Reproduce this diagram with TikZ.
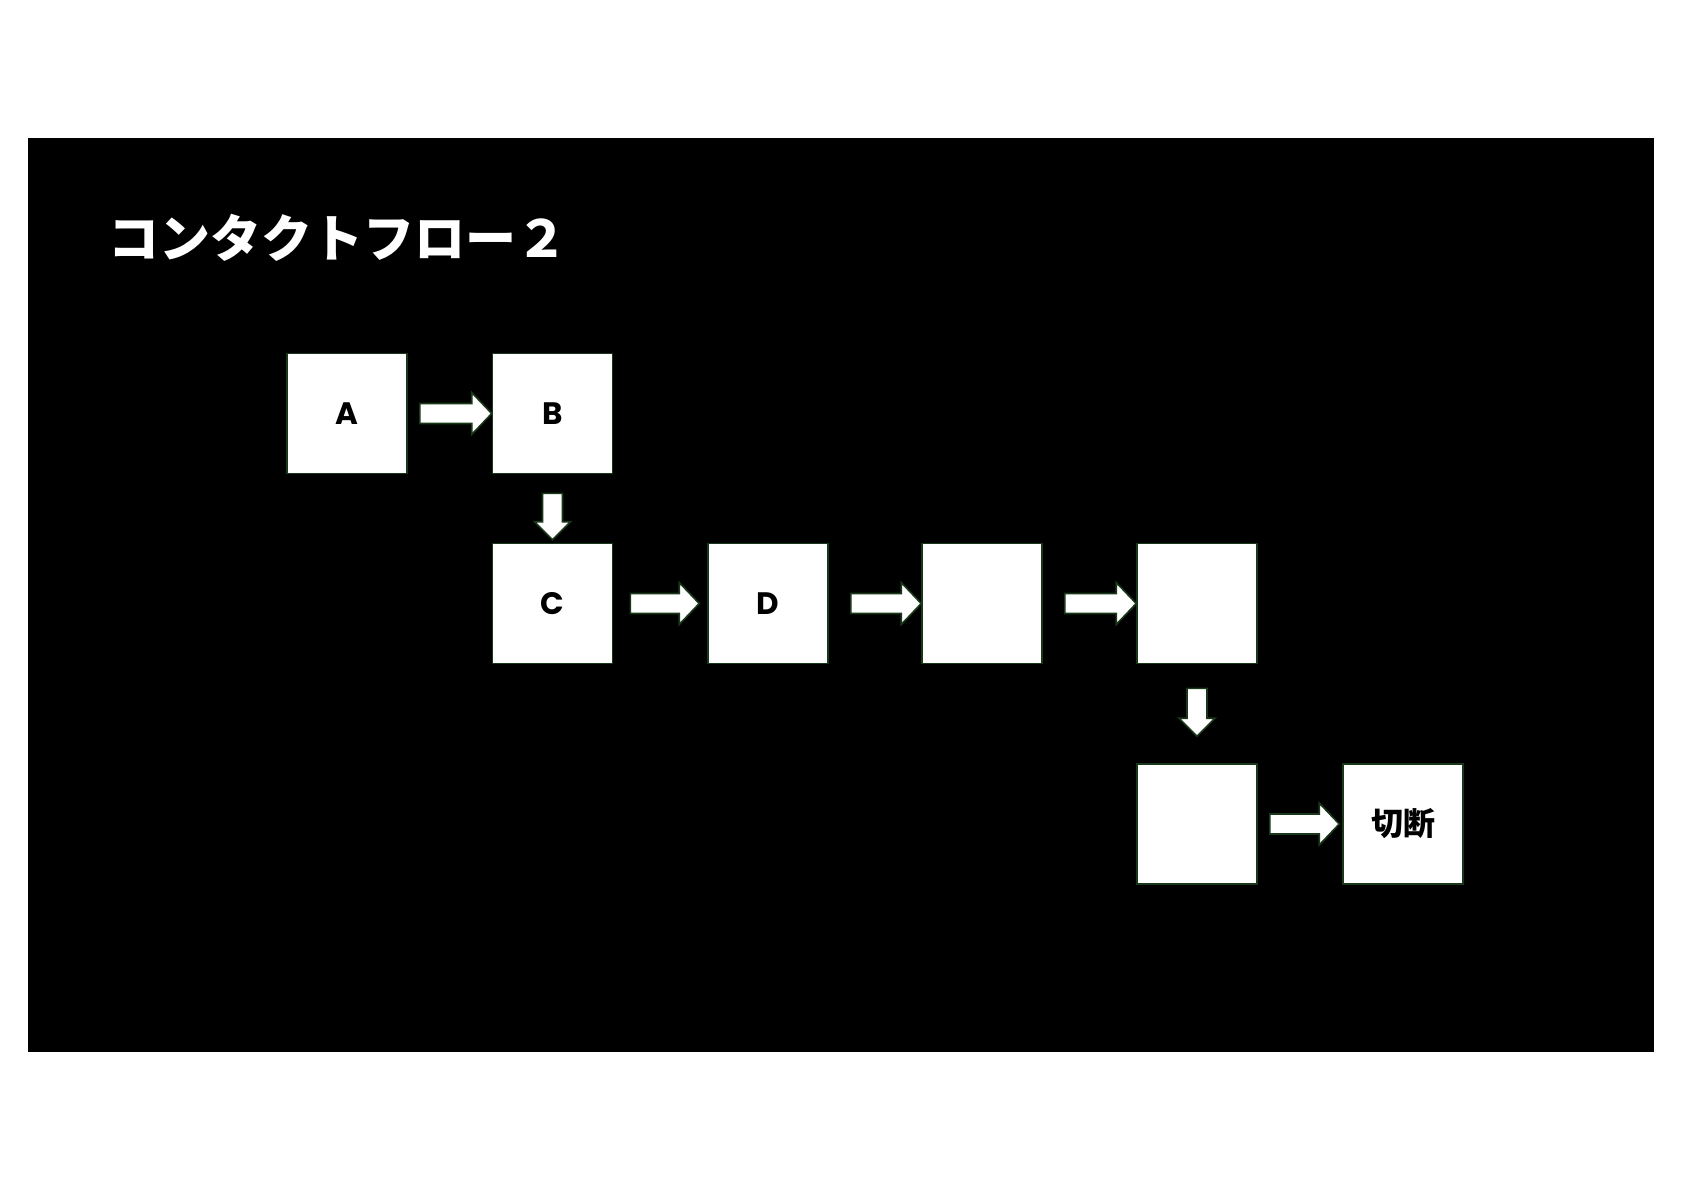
\documentclass[tikz,border=0pt]{standalone}
\usepackage{fontspec}
\usepackage{tikz}
\usetikzlibrary{calc}
\newfontfamily\jpfont{Noto Sans CJK JP}
\newfontfamily\boxfont{Poppins}
\definecolor{boxedge}{RGB}{25,55,25}

\begin{document}
\begin{tikzpicture}[x=0.5pt, y=-0.5pt,
  box/.style={draw=boxedge, fill=white, line width=0.8pt, minimum size=60pt, inner sep=0pt,
    font=\boxfont\bfseries\fontsize{15.5}{18}\selectfont},
  rarrow/.style={draw=boxedge, fill=white, line width=0.8pt,
    to path={let \p1=(\tikztostart), \p2=(\tikztotarget) in
      (\x1,\y1+5pt) -- (\x2-10pt,\y1+5pt) -- (\x2-10pt,\y1+10.5pt) -- (\x2,\y1)
      -- (\x2-10pt,\y1-10.5pt) -- (\x2-10pt,\y1-5pt) -- (\x1,\y1-5pt) -- cycle}},
  darrow/.style={draw=boxedge, fill=white, line width=0.8pt,
    to path={let \p1=(\tikztostart), \p2=(\tikztotarget) in
      (\x1-5pt,\y1) -- (\x1-5pt,\y2+9pt) -- (\x1-9pt,\y2+9pt) -- (\x1,\y2)
      -- (\x1+9pt,\y2+9pt) -- (\x1+5pt,\y2+9pt) -- (\x1+5pt,\y1) -- cycle}}]
  \useasboundingbox (0,0) rectangle (1684,1191);
  \fill[black] (28,138) rectangle (1654,1052);
  \node[anchor=base west, inner sep=0pt, text=white,
    font=\jpfont\bfseries\fontsize{25.5}{30}\selectfont] (title) at (108,257) {コンタクトフロー２};
  % boxes
  \node[box] (A) at (347,413.5) {A};
  \node[box] (B) at (552.5,413.5) {B};
  \node[box] (C) at (552.5,603.5) {C};
  \node[box] (D) at (768,603.5) {D};
  \node[box] (E) at (982,603.5) {};
  \node[box] (F) at (1197,603.5) {};
  \node[box] (G) at (1197,824) {};
  \node[box, font=\jpfont\bfseries\fontsize{16}{18}\selectfont] (H) at (1403,824) {切断};
  % arrows
  \draw[rarrow] ($(A.east)+(12,0)$) to (B.west);
  \draw[darrow] ($(B.south)+(0,19)$) to ($(C.north)+(0,-3)$);
  \draw[rarrow] ($(C.east)+(17,0)$) to ($(D.west)+(-8,0)$);
  \draw[rarrow] ($(D.east)+(22,0)$) to (E.west);
  \draw[rarrow] ($(E.east)+(22,0)$) to (F.west);
  \draw[darrow] ($(F.south)+(0,24)$) to ($(G.north)+(0,-27)$);
  \draw[rarrow] ($(G.east)+(12,0)$) to ($(H.west)+(-3,0)$);
\end{tikzpicture}
\end{document}
